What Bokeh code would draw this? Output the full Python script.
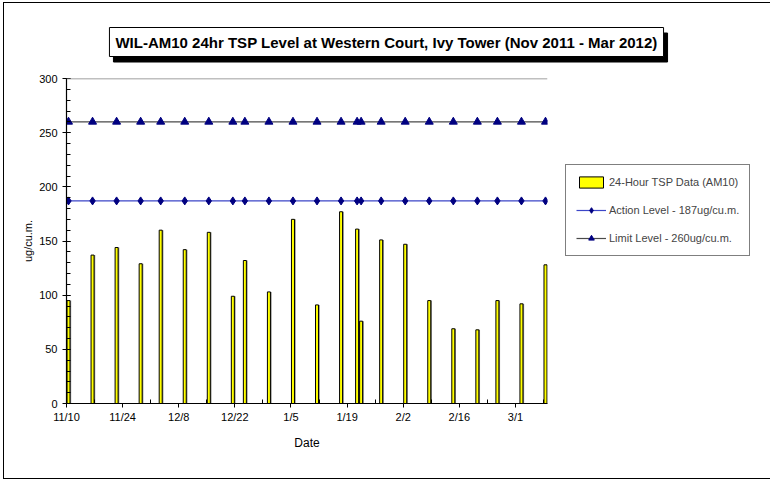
from datetime import datetime
import pandas as pd
from bokeh.plotting import figure
from bokeh.models import (ColumnDataSource, Range1d, FixedTicker, Legend, LegendItem,
                          Span, DatetimeTickFormatter, Label)
from bokeh.embed import file_html
from bokeh.resources import INLINE

# ---------------- data ----------------
dates = ["2011-11-10", "2011-11-16", "2011-11-22", "2011-11-28", "2011-12-03",
         "2011-12-09", "2011-12-15", "2011-12-21", "2011-12-24", "2011-12-30",
         "2012-01-05", "2012-01-11", "2012-01-17", "2012-01-21", "2012-01-22",
         "2012-01-27", "2012-02-02", "2012-02-08", "2012-02-14", "2012-02-20",
         "2012-02-25", "2012-03-02", "2012-03-08"]
tsp = [95, 137, 144, 129, 160, 142, 158, 99, 132, 103, 170, 91, 177, 161, 76,
       151, 147, 95, 69, 68, 95, 92, 128]
action_level = 187
limit_level = 260
tick_dates = ["2011-11-10", "2011-11-24", "2011-12-08", "2011-12-22", "2012-01-05",
              "2012-01-19", "2012-02-02", "2012-02-16", "2012-03-01"]
minor_tick_dates = ["2011-11-17", "2011-12-01", "2011-12-15", "2011-12-29", "2012-01-12",
                    "2012-01-26", "2012-02-09", "2012-02-23", "2012-03-08"]
title_text = "WIL-AM10 24hr TSP Level at Western Court, Ivy Tower (Nov 2011 - Mar 2012)"

# ---------------- sources ----------------
DAY = 86400000.0
d = pd.to_datetime(dates)
xc = d + pd.Timedelta(hours=12)
src = ColumnDataSource(dict(
    x=xc, xs=xc + pd.Timedelta(hours=7), tsp=tsp,
    action=[action_level] * len(dates), limit=[limit_level] * len(dates)))

FONT = "Liberation Sans"

p = figure(width=764, height=477, frame_width=481, frame_height=325,
           output_backend="svg", toolbar_location=None,
           x_axis_type="datetime",
           x_range=Range1d(datetime(2011, 11, 10), datetime(2012, 3, 9)),
           y_range=Range1d(0, 300),
           min_border_left=62, min_border_right=219, min_border_top=75, min_border_bottom=75,
           background_fill_color="white", border_fill_color="white")
p.styles = {"border": "1px solid black", "box-sizing": "border-box",
            "margin": "2px 0 0 3px"}
p.outline_line_color = None
p.xgrid.visible = False
p.ygrid.visible = False

# top border line of plot area
p.add_layout(Span(location=300, dimension="width", line_color="#808080", line_width=1.5))

# bars (shadow + bar)
p.vbar(x="xs", top="tsp", width=0.75 * DAY, source=src, fill_color="#808080",
       line_color=None)
bars = p.vbar(x="x", top="tsp", width=0.75 * DAY, source=src, fill_color="#FFFF00",
              line_color="black", line_width=1)

# action level
al = p.line(x="x", y="action", source=src, line_color="#3C46C8", line_width=1.2)
am = p.scatter(x="x", y="action", source=src, marker="diamond", size=8,
               fill_color="#000080", line_color="#000080")
# limit level
ll = p.line(x="x", y="limit", source=src, line_color="#4A4A4A", line_width=1.2)
lm = p.scatter(x="x", y="limit", source=src, marker="triangle", size=8,
               fill_color="#000080", line_color="#000080")

# axes
ts = [pd.Timestamp(t).value / 1e6 for t in tick_dates]
mts = [pd.Timestamp(t).value / 1e6 for t in minor_tick_dates]
p.xaxis.ticker = FixedTicker(ticks=ts, minor_ticks=mts)
p.xaxis.formatter = DatetimeTickFormatter(days="%-m/%-d", months="%-m/%-d")
p.yaxis.ticker = FixedTicker(ticks=list(range(0, 301, 50)), minor_ticks=list(range(0, 301, 10)))

for ax in (p.xaxis[0], p.yaxis[0]):
    ax.axis_line_color = "black"
    ax.axis_line_width = 1.2
    ax.major_tick_line_color = "black"
    ax.minor_tick_line_color = "black"
    ax.major_label_text_font = FONT
    ax.major_label_text_font_size = "11px"
    ax.major_label_text_color = "black"
    ax.axis_label_text_font = FONT
    ax.axis_label_text_font_style = "normal"
    ax.axis_label_text_color = "black"

p.xaxis.major_tick_in = 0
p.xaxis.major_tick_out = 4
p.xaxis.minor_tick_in = 4
p.xaxis.minor_tick_out = 0
p.xaxis.major_label_standoff = 3
p.xaxis.axis_label = "Date"
p.xaxis.axis_label_text_font_size = "12px"
p.xaxis.axis_label_standoff = 10

p.yaxis.major_tick_in = 4
p.yaxis.major_tick_out = 4
p.yaxis.minor_tick_in = 4
p.yaxis.minor_tick_out = 0
p.yaxis.major_label_standoff = 5
p.yaxis.axis_label = "ug/cu.m."
p.yaxis.axis_label_text_font_size = "11px"
p.yaxis.axis_label_standoff = 2

# legend in right panel
legend = Legend(items=[
    LegendItem(label="24-Hour TSP Data (AM10)", renderers=[bars]),
    LegendItem(label="Action Level - 187ug/cu.m.", renderers=[al, am]),
    LegendItem(label="Limit Level - 260ug/cu.m.", renderers=[ll, lm]),
], location=(18, 147), padding=10, margin=0, spacing=14,
    glyph_width=30, glyph_height=14, label_height=14, label_standoff=3,
    label_text_font=FONT, label_text_font_size="11px",
    border_line_color="black", border_line_width=1, background_fill_color="white",
    background_fill_alpha=1)
p.add_layout(legend, "right")

# title box shadow + title box, placed in the top panel (not clipped by the frame)
common = dict(text=title_text, x_units="screen", y_units="screen",
              text_align="center", text_baseline="middle",
              text_font=FONT, text_font_size="15px", text_font_style="bold",
              text_color="black", border_line_color="black", border_line_width=1,
              padding=6)
p.add_layout(Label(x=324, y=31, background_fill_color="black", **common), "above")
p.add_layout(Label(x=320, y=7.5, background_fill_color="white", **common), "above")

open("out.html", "w").write(file_html(p, INLINE))
